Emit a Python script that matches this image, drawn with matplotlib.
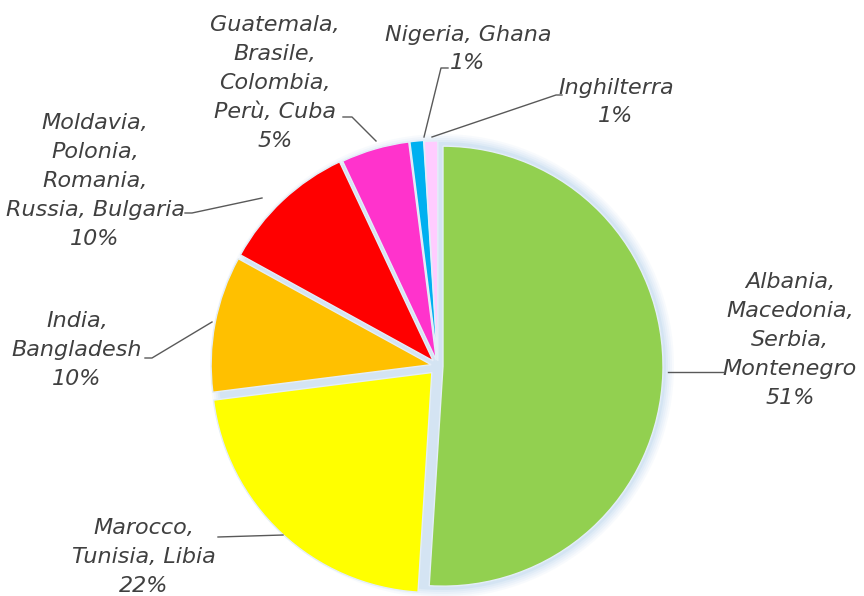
import matplotlib
matplotlib.use("Agg")
import matplotlib.pyplot as plt
from matplotlib.patches import Circle

labels = ["Albania,\nMacedonia,\nSerbia,\nMontenegro", "Marocco,\nTunisia, Libia", "India,\nBangladesh",
          "Moldavia,\nPolonia,\nRomania,\nRussia, Bulgaria", "Guatemala,\nBrasile,\nColombia,\nPerù, Cuba",
          "Nigeria, Ghana", "Inghilterra"]
values = [51, 22, 10, 10, 5, 1, 1]
colors = ["#92D050", "#FFFF00", "#FFC000", "#FF0000", "#FF33CC", "#00B0F0", "#FFCCFF"]

W, H = 864, 596
fig = plt.figure(figsize=(W / 100, H / 100), dpi=100)
ax = fig.add_axes([0, 0, 1, 1])

cx, cy, R = 438, H - 366, 220
# soft bluish glow behind the pie
for i, a in enumerate([0.10, 0.12, 0.15, 0.2, 0.3]):
    ax.add_patch(Circle((cx + 4, cy), R + 12 - 2 * i, color="#BDD7EE", alpha=a, lw=0, zorder=0))

wedges, _ = ax.pie(values, colors=colors, startangle=90, counterclock=False,
                   center=(cx, cy), radius=R, explode=[5, 9, 7, 7, 6, 6, 5],
                   wedgeprops=dict(edgecolor="#E4EEF8", linewidth=1.0), frame=True)
ax.set_xlim(0, W)
ax.set_ylim(0, H)
ax.set_aspect("equal")
ax.axis("off")

# label text centre (px, from top), leader line points (px)
label_pos = [(790, 340), (144, 557), (77, 350), (95, 181), (275, 83), (468, 49), (616, 102)]
leaders = [
    [(724, 372), (668, 372)],
    [(218, 537), (283, 535)],
    [(145, 358), (152, 358), (212, 322)],
    [(185, 213), (192, 213), (262, 198)],
    [(343, 117), (352, 117), (376, 141)],
    [(448, 68), (441, 68), (424, 137)],
    [(562, 95), (556, 95), (432, 137)],
]
pct = [f"{v}%" for v in values]
for lab, p, (x, y), ln in zip(labels, pct, label_pos, leaders):
    ax.text(x, H - y, lab + "\n" + p, ha="center", va="center", fontsize=16,
            style="italic", family="DejaVu Sans", color="#404040", linespacing=1.55)
    xs = [pt[0] for pt in ln]
    ys = [H - pt[1] for pt in ln]
    ax.plot(xs, ys, color="#595959", lw=1, zorder=5)

fig.savefig("out.png", dpi=100)
